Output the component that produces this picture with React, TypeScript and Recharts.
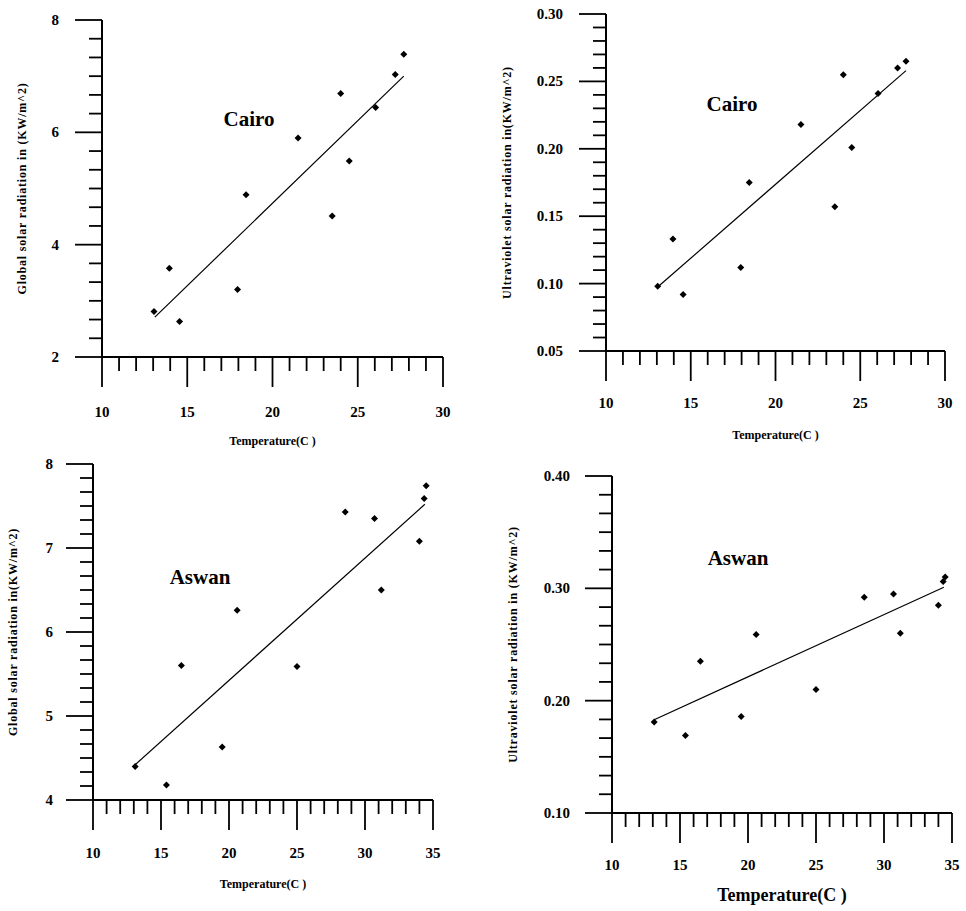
import React from "react";
import { ScatterChart, Scatter, XAxis, YAxis, ReferenceLine } from "recharts";

// monthly means
const cairoTemp = [13.05, 13.95, 14.55, 17.95, 18.45, 21.5, 23.5, 24.0, 24.5, 26.05, 27.2, 27.7];
const cairoGlobal = [2.81, 3.58, 2.63, 3.2, 4.89, 5.9, 4.51, 6.69, 5.49, 6.44, 7.03, 7.39];
const cairoUV = [0.098, 0.133, 0.092, 0.112, 0.175, 0.218, 0.157, 0.255, 0.201, 0.241, 0.26, 0.265];

const aswanTemp = [13.1, 15.4, 16.5, 19.5, 20.6, 25.0, 28.55, 30.7, 31.2, 34.0, 34.35, 34.5];
const aswanGlobal = [4.4, 4.18, 5.6, 4.63, 6.26, 5.59, 7.43, 7.35, 6.5, 7.08, 7.59, 7.74];
const aswanUV = [0.181, 0.169, 0.235, 0.186, 0.259, 0.21, 0.292, 0.295, 0.26, 0.285, 0.306, 0.31];

// fitted lines (end points)
const cairoFitX = [13.1, 27.7];
const cairoGlobalFit = [2.71, 7.0];
const cairoUVFit = [0.098, 0.258];
const aswanFitX = [13.1, 34.4];
const aswanGlobalFit = [4.42, 7.52];
const aswanUVFit = [0.183, 0.301];

const FONT = '"Liberation Serif", "Times New Roman", serif';

const makeTicks = (min: number, max: number, step: number) => {
  const n = Math.round((max - min) / step);
  return Array.from({ length: n + 1 }, (_, i) => +(min + i * step).toFixed(4));
};

const isMajor = (v: number, majorStep: number) =>
  Math.abs(v / majorStep - Math.round(v / majorStep)) < 1e-3;

const toPoints = (xs: number[], ys: number[]) => xs.map((x, i) => ({ x, y: ys[i] }));

const Diamond = (props: any) => {
  const { cx, cy } = props;
  const r = 3.5;
  return (
    <path
      d={`M${cx},${cy - r}L${cx + r},${cy}L${cx},${cy + r}L${cx - r},${cy}Z`}
      fill="#000"
    />
  );
};

const XTick = (props: any) => {
  const { x, y, payload, majorStep, labelGap } = props;
  const major = isMajor(payload.value, majorStep);
  return (
    <g>
      <line x1={x} y1={y} x2={x} y2={y + (major ? 30 : 14)} stroke="#000" strokeWidth={1.8} />
      {major && (
        <text
          x={x}
          y={y + labelGap}
          textAnchor="middle"
          dominantBaseline="central"
          fontFamily={FONT}
          fontWeight="bold"
          fontSize={15}
          fill="#000"
        >
          {payload.value}
        </text>
      )}
    </g>
  );
};

const YTick = (props: any) => {
  const { x, y, payload, majorStep, labelGap, decimals } = props;
  const major = isMajor(payload.value, majorStep);
  return (
    <g>
      <line x1={x - (major ? 27 : 13)} y1={y} x2={x} y2={y} stroke="#000" strokeWidth={1.8} />
      {major && (
        <text
          x={x - labelGap}
          y={y}
          textAnchor="end"
          dominantBaseline="central"
          fontFamily={FONT}
          fontWeight="bold"
          fontSize={15}
          fill="#000"
        >
          {payload.value.toFixed(decimals)}
        </text>
      )}
    </g>
  );
};

interface PanelProps {
  left: number;
  top: number;
  width: number;
  height: number;
  margin: { top: number; right: number; bottom: number; left: number };
  xs: number[];
  ys: number[];
  fitX: number[];
  fitY: number[];
  xDomain: [number, number];
  yDomain: [number, number];
  yMinor: number;
  yMajor: number;
  decimals: number;
  xLabelGap: number;
  yLabelGap: number;
  xTitle: string;
  xTitleSize: number;
  xTitleOffset: number;
  yTitle: string;
  yTitleOffset: number;
  title: string;
  titleX: number;
  titleY: number;
}

const Panel: React.FC<PanelProps> = (p) => {
  const data = toPoints(p.xs, p.ys);
  const xTicks = makeTicks(p.xDomain[0], p.xDomain[1], 1);
  const yTicks = makeTicks(p.yDomain[0], p.yDomain[1], p.yMinor);
  // axes are 1px thick boxes so the plot area follows the margins
  const margin = {
    top: p.margin.top,
    right: p.margin.right,
    bottom: p.margin.bottom - 1,
    left: p.margin.left - 1,
  };
  return (
    <div style={{ position: "absolute", left: p.left, top: p.top }}>
      <ScatterChart width={p.width} height={p.height} margin={margin}>
        <XAxis
          type="number"
          dataKey="x"
          domain={p.xDomain}
          ticks={xTicks}
          interval={0}
          height={1}
          tickSize={0}
          tickMargin={0}
          tickLine={false}
          axisLine={{ stroke: "#000", strokeWidth: 2 }}
          tick={(t: any) => <XTick {...t} majorStep={5} labelGap={p.xLabelGap} />}
          label={{
            value: p.xTitle,
            position: "bottom",
            offset: p.xTitleOffset,
            fontFamily: FONT,
            fontWeight: "bold",
            fontSize: p.xTitleSize,
            fill: "#000",
          }}
        />
        <YAxis
          type="number"
          dataKey="y"
          domain={p.yDomain}
          ticks={yTicks}
          interval={0}
          width={1}
          tickSize={0}
          tickMargin={0}
          tickLine={false}
          axisLine={{ stroke: "#000", strokeWidth: 2 }}
          tick={(t: any) => (
            <YTick {...t} majorStep={p.yMajor} labelGap={p.yLabelGap} decimals={p.decimals} />
          )}
          label={{
            value: p.yTitle,
            position: "left",
            angle: -90,
            offset: p.yTitleOffset,
            fontFamily: FONT,
            fontWeight: "bold",
            fontSize: 12,
            letterSpacing: 0.8,
            fill: "#000",
            style: { textAnchor: "middle" },
          }}
        />
        <ReferenceLine
          segment={[
            { x: p.fitX[0], y: p.fitY[0] },
            { x: p.fitX[1], y: p.fitY[1] },
          ]}
          stroke="#000"
          strokeWidth={1.2}
        />
        <Scatter data={data} shape={Diamond} isAnimationActive={false} />
        <text
          x={p.titleX}
          y={p.titleY}
          textAnchor="middle"
          dominantBaseline="central"
          fontFamily={FONT}
          fontWeight="bold"
          fontSize={21}
          fill="#000"
        >
          {p.title}
        </text>
      </ScatterChart>
    </div>
  );
};

const App: React.FC = () => {
  return (
    <div
      style={{
        position: "absolute",
        left: 0,
        top: 0,
        width: 966,
        height: 911,
        background: "#fff",
        overflow: "hidden",
      }}
    >
      <Panel
        left={0}
        top={0}
        width={483}
        height={455}
        margin={{ top: 20, right: 40, bottom: 98, left: 102 }}
        xs={cairoTemp}
        ys={cairoGlobal}
        fitX={cairoFitX}
        fitY={cairoGlobalFit}
        xDomain={[10, 30]}
        yDomain={[2, 8]}
        yMinor={1 / 3}
        yMajor={2}
        decimals={0}
        xLabelGap={55}
        yLabelGap={43}
        xTitle="Temperature(C )"
        xTitleSize={12}
        xTitleOffset={78}
        yTitle="Global solar radiation in (KW/m^2)"
        yTitleOffset={79}
        title="Cairo"
        titleX={249}
        titleY={119}
      />
      <Panel
        left={483}
        top={0}
        width={483}
        height={455}
        margin={{ top: 14, right: 21, bottom: 104, left: 123 }}
        xs={cairoTemp}
        ys={cairoUV}
        fitX={cairoFitX}
        fitY={cairoUVFit}
        xDomain={[10, 30]}
        yDomain={[0.05, 0.3]}
        yMinor={0.01}
        yMajor={0.05}
        decimals={2}
        xLabelGap={52}
        yLabelGap={43}
        xTitle="Temperature(C )"
        xTitleSize={12}
        xTitleOffset={78}
        yTitle="Ultraviolet solar radiation in(KW/m^2)"
        yTitleOffset={98}
        title="Cairo"
        titleX={249}
        titleY={104}
      />
      <Panel
        left={0}
        top={455}
        width={483}
        height={456}
        margin={{ top: 9, right: 50, bottom: 111, left: 93 }}
        xs={aswanTemp}
        ys={aswanGlobal}
        fitX={aswanFitX}
        fitY={aswanGlobalFit}
        xDomain={[10, 35]}
        yDomain={[4, 8]}
        yMinor={1 / 6}
        yMajor={1}
        decimals={0}
        xLabelGap={53}
        yLabelGap={40}
        xTitle="Temperature(C )"
        xTitleSize={12}
        xTitleOffset={78}
        yTitle="Global solar radiation in(KW/m^2)"
        yTitleOffset={79}
        title="Aswan"
        titleX={200}
        titleY={122}
      />
      <Panel
        left={483}
        top={455}
        width={483}
        height={456}
        margin={{ top: 21, right: 14, bottom: 98, left: 129 }}
        xs={aswanTemp}
        ys={aswanUV}
        fitX={aswanFitX}
        fitY={aswanUVFit}
        xDomain={[10, 35]}
        yDomain={[0.1, 0.4]}
        yMinor={0.1 / 6}
        yMajor={0.1}
        decimals={2}
        xLabelGap={52}
        yLabelGap={42}
        xTitle="Temperature(C )"
        xTitleSize={18}
        xTitleOffset={74}
        yTitle="Ultraviolet solar radiation in (KW/m^2)"
        yTitleOffset={98}
        title="Aswan"
        titleX={255}
        titleY={103}
      />
    </div>
  );
};

export default App;
